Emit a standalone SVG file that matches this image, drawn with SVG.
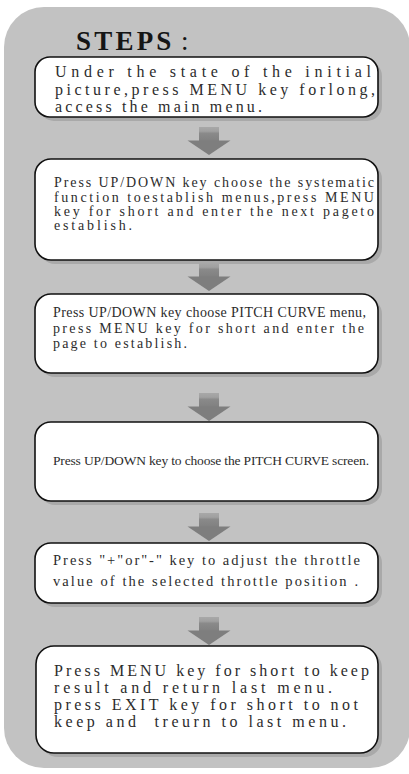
<svg xmlns="http://www.w3.org/2000/svg" xmlns:xlink="http://www.w3.org/1999/xlink" width="409" height="774" viewBox="0 0 409 774">
  <style>
    .panel { fill: #c2c2c2; }
    .shadow { fill: #a9a9a9; }
    .box { fill: #ffffff; stroke: #111111; stroke-width: 1.6; }
    .body { font-family: "Liberation Serif", "Times New Roman", serif; fill: #2c2c2c; }
    .title { font-family: "Liberation Serif", "Times New Roman", serif; font-weight: bold; font-size: 27px; fill: #151515; }
  </style>
  <defs>
    <linearGradient id="barGrad" x1="0" y1="0" x2="0" y2="1">
      <stop offset="0" stop-color="#a8a8a8"/>
      <stop offset="0.3" stop-color="#a0a0a0"/>
      <stop offset="0.45" stop-color="#8a8a8a"/>
      <stop offset="1" stop-color="#808080"/>
    </linearGradient>
    <g id="downArrow">
      <rect x="-10" y="0" width="20" height="14" fill="url(#barGrad)"/>
      <polygon points="-21.5,13.5 21.5,13.5 0,28" fill="#7e7e7e"/>
    </g>
  </defs>

  <!-- background panel -->
  <rect class="panel" x="4" y="7" width="406" height="761" rx="40" ry="40"/>

  <!-- heading -->
  <g id="heading">
    <text class="title" x="76" y="50"><tspan letter-spacing="3.2">STEPS</tspan><tspan x="181" font-weight="normal">:</tspan></text>
  </g>

  <!-- step 1 -->
  <g id="step1">
    <rect class="shadow" x="39" y="61" width="343" height="60" rx="15"/>
    <rect class="box" x="35" y="57" width="343" height="60" rx="15"/>
    <g class="body" font-size="16">
      <text x="55" y="77" textLength="316" lengthAdjust="spacing">Under the state of the initial</text>
      <text x="55" y="95" textLength="320" lengthAdjust="spacing">picture,press MENU key forlong,</text>
      <text x="55" y="112" textLength="207" lengthAdjust="spacing">access the main menu.</text>
    </g>
  </g>

  <!-- step 2 -->
  <g id="step2">
    <rect class="shadow" x="39" y="163" width="343" height="101" rx="16"/>
    <rect class="box" x="35" y="159" width="343" height="101" rx="16"/>
    <g class="body" font-size="14">
      <text x="54" y="187" textLength="320" lengthAdjust="spacing">Press UP/DOWN key choose the systematic</text>
      <text x="54" y="201.5" textLength="320" lengthAdjust="spacing">function toestablish menus,press MENU</text>
      <text x="54" y="215.5" textLength="320" lengthAdjust="spacing">key for short and enter the next pageto</text>
      <text x="54" y="230" textLength="78" lengthAdjust="spacing">establish.</text>
    </g>
  </g>

  <!-- step 3 -->
  <g id="step3">
    <rect class="shadow" x="39" y="298" width="343" height="79" rx="16"/>
    <rect class="box" x="35" y="294" width="343" height="79" rx="16"/>
    <g class="body" font-size="14">
      <text x="53" y="317" textLength="313" lengthAdjust="spacing">Press UP/DOWN key choose PITCH CURVE menu,</text>
      <text x="53" y="333" textLength="311" lengthAdjust="spacing">press MENU key for short and enter the</text>
      <text x="53" y="348" textLength="134" lengthAdjust="spacing">page to establish.</text>
    </g>
  </g>

  <!-- step 4 -->
  <g id="step4">
    <rect class="shadow" x="39" y="426" width="343" height="79" rx="16"/>
    <rect class="box" x="35" y="422" width="343" height="79" rx="16"/>
    <g class="body" font-size="13.5">
      <text x="53" y="465" textLength="316" lengthAdjust="spacing">Press UP/DOWN key to choose the PITCH CURVE screen.</text>
    </g>
  </g>

  <!-- step 5 -->
  <g id="step5">
    <rect class="shadow" x="39" y="547" width="343" height="60" rx="16"/>
    <rect class="box" x="35" y="543" width="343" height="60" rx="16"/>
    <g class="body" font-size="14.5">
      <text x="53" y="565" textLength="307" lengthAdjust="spacing">Press "+"or"-" key to adjust the throttle</text>
      <text x="53" y="586" textLength="305" lengthAdjust="spacing">value of the selected throttle position .</text>
    </g>
  </g>

  <!-- step 6 -->
  <g id="step6">
    <rect class="shadow" x="40" y="650" width="342" height="107" rx="18"/>
    <rect class="box" x="36" y="646" width="342" height="107" rx="18"/>
    <g class="body" font-size="16">
      <text x="54" y="676" textLength="315" lengthAdjust="spacing">Press MENU key for short to keep</text>
      <text x="54" y="693" textLength="278" lengthAdjust="spacing">result and return last menu.</text>
      <text x="54" y="710" textLength="304" lengthAdjust="spacing">press EXIT key for short to not</text>
      <text x="54" y="727" textLength="292" lengthAdjust="spacing" xml:space="preserve">keep and  treurn to last menu.</text>
    </g>
  </g>

  <!-- connectors -->
  <g id="connectors">
    <use xlink:href="#downArrow" transform="translate(209 127)"/>
    <use xlink:href="#downArrow" transform="translate(209 263)"/>
    <use xlink:href="#downArrow" transform="translate(209 393)"/>
    <use xlink:href="#downArrow" transform="translate(209 513)"/>
    <use xlink:href="#downArrow" transform="translate(209 617)"/>
  </g>
</svg>
